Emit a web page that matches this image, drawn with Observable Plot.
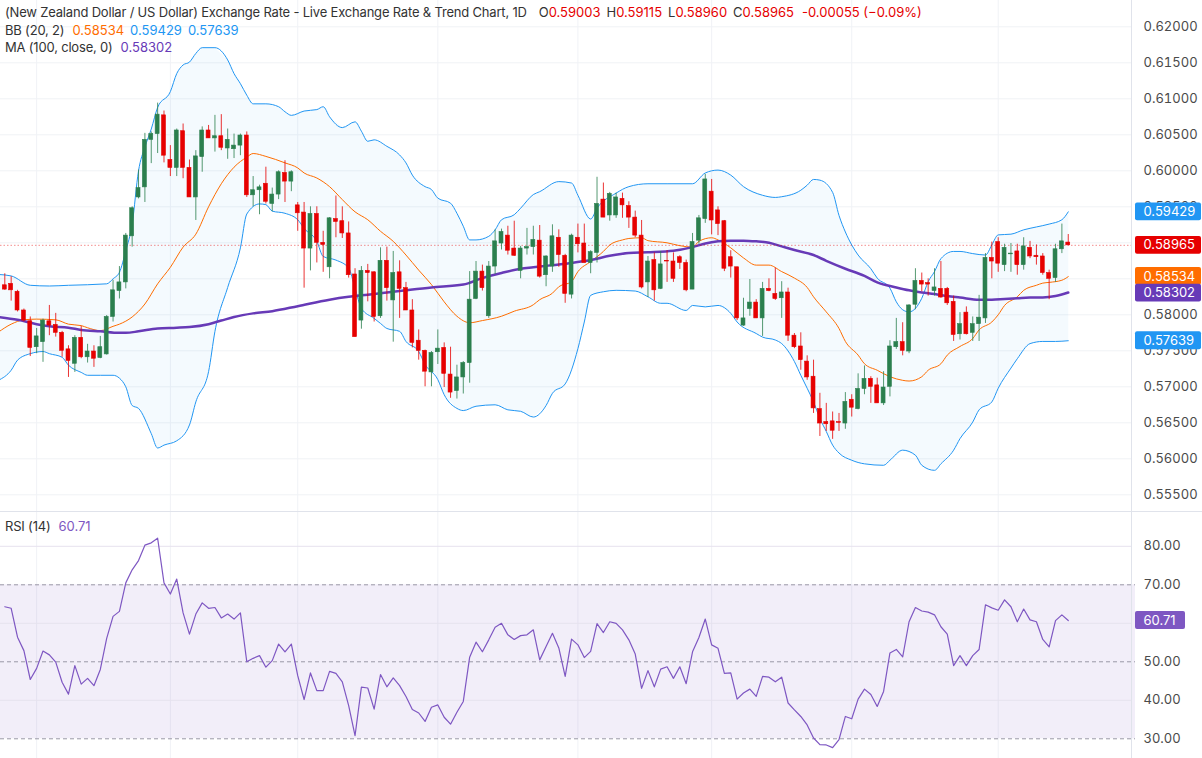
<!DOCTYPE html>
<html><head><meta charset="utf-8">
<script src="https://cdn.jsdelivr.net/npm/d3@7"></script>
<script src="https://cdn.jsdelivr.net/npm/@observablehq/plot@0.6"></script>
<style>
body{margin:0;background:#fff;font-family:Inter,"Noto Sans",sans-serif;}
#wrap{position:relative;width:1202px;height:758px;overflow:hidden;background:#fff}
#main,#rsi{display:block;line-height:0}
#rsi{border-top:1px solid #e0e3eb}
.lbl{position:absolute;left:5px;font-size:13px;line-height:17.5px;color:#333;white-space:nowrap}
.t{letter-spacing:-0.19px}
.r{color:#e60000}.o{color:#ff6d00}.b{color:#2196f3}.p{color:#673ab7}.rp{color:#7e57c2}
.g13{margin-left:12px}.g8{margin-left:6px}.g10{margin-left:8px}
</style></head><body>
<div id="wrap">
<div id="main"></div>
<div id="rsi"></div>
<div class="lbl" style="top:4px"><span class="t">(New Zealand Dollar / US Dollar) Exchange Rate - Live Exchange Rate &amp; Trend Chart, 1D</span><span class="g13">O</span><span class="r">0.59003</span><span class="g8">H</span><span class="r">0.59115</span><span class="g8">L</span><span class="r">0.58960</span><span class="g8">C</span><span class="r">0.58965</span><span class="r g10">-0.00055 (−0.09%)</span><br><span class="t">BB (20, 2)</span><span class="o g10">0.58534</span><span class="b g8">0.59429</span><span class="b g8">0.57639</span><br><span class="t">MA (100, close, 0)</span><span class="p g10">0.58302</span></div>
<div class="lbl" style="top:518px"><span class="t">RSI (14)</span><span class="rp g10">60.71</span></div>
</div>
<script>
// ---- Daily candles (index = trading day) ----
const open=[0.5841,0.5843,0.5832,0.5806,0.5791,0.5755,0.5762,0.5791,0.5786,0.5775,
0.5752,0.5732,0.5768,0.5741,0.5749,0.5740,0.5745,0.5797,0.5833,0.5845,
0.5909,0.5963,0.5977,0.6043,0.6051,0.6077,0.6015,0.6004,0.6055,0.6004,
0.5963,0.6019,0.6056,0.6045,0.6048,0.6031,0.6030,0.6035,0.6049,0.5966,
0.5973,0.5982,0.5954,0.5967,0.5997,0.5985,0.5952,0.5942,0.5892,0.5940,
0.5900,0.5866,0.5933,0.5930,0.5913,0.5856,0.5792,0.5861,0.5859,0.5798,
0.5875,0.5820,0.5859,0.5837,0.5806,0.5764,0.5750,0.5720,0.5748,0.5754,
0.5717,0.5694,0.5713,0.5733,0.5822,0.5860,0.5798,0.5867,0.5899,0.5910,
0.5892,0.5861,0.5892,0.5894,0.5903,0.5855,0.5867,0.5907,0.5882,0.5828,
0.5907,0.5899,0.5872,0.5886,0.5960,0.5938,0.5938,0.5961,0.5951,0.5935,
0.5910,0.5845,0.5876,0.5836,0.5875,0.5874,0.5880,0.5872,0.5835,0.5903,
0.5933,0.5971,0.5945,0.5930,0.5880,0.5866,0.5785,0.5808,0.5817,0.5795,
0.5836,0.5829,0.5823,0.5831,0.5771,0.5756,0.5735,0.5714,0.5669,0.5651,
0.5652,0.5651,0.5649,0.5682,0.5669,0.5697,0.5711,0.5702,0.5677,0.5700,
0.5755,0.5762,0.5749,0.5814,0.5847,0.5844,0.5833,0.5836,0.5836,0.5818,
0.5773,0.5803,0.5775,0.5787,0.5795,0.5879,0.5901,0.5869,0.5884,0.5888,
0.5869,0.5893,0.5882,0.5881,0.5858,0.5851,0.5891,0.59003];
const high=[0.5857,0.5853,0.5834,0.5808,0.5797,0.5781,0.5794,0.5813,0.5802,0.5777,
0.5757,0.5771,0.5784,0.5759,0.5757,0.5770,0.5799,0.5848,0.5867,0.5913,
0.5950,0.6001,0.6052,0.6054,0.6094,0.6083,0.6035,0.6058,0.6065,0.6015,
0.6028,0.6061,0.6063,0.6077,0.6078,0.6058,0.6051,0.6051,0.6054,0.5992,
0.5980,0.6005,0.5976,0.6000,0.6014,0.6000,0.5956,0.5956,0.5950,0.5950,
0.5916,0.5935,0.5965,0.5950,0.5929,0.5864,0.5867,0.5870,0.5860,0.5893,
0.5894,0.5888,0.5875,0.5845,0.5821,0.5779,0.5751,0.5749,0.5779,0.5761,
0.5755,0.5730,0.5735,0.5860,0.5874,0.5869,0.5874,0.5918,0.5919,0.5923,
0.5930,0.5895,0.5920,0.5923,0.5924,0.5882,0.5925,0.5918,0.5884,0.5912,
0.5926,0.5926,0.5889,0.5991,0.5983,0.5970,0.5969,0.5969,0.5957,0.5944,
0.5931,0.5881,0.5886,0.5888,0.5889,0.5886,0.5882,0.5876,0.5913,0.5938,
0.5995,0.5988,0.5950,0.5931,0.5889,0.5866,0.5823,0.5849,0.5821,0.5845,
0.5850,0.5865,0.5846,0.5837,0.5774,0.5775,0.5743,0.5737,0.5691,0.5677,
0.5665,0.5663,0.5692,0.5689,0.5718,0.5729,0.5714,0.5712,0.5721,0.5764,
0.5795,0.5789,0.5814,0.5864,0.5858,0.5850,0.5864,0.5874,0.5838,0.5826,
0.5803,0.5811,0.5797,0.5827,0.5885,0.5901,0.5907,0.5898,0.5899,0.5898,
0.5907,0.5902,0.5897,0.5885,0.5862,0.5898,0.5926,0.59115];
const low=[0.5834,0.5819,0.5804,0.5790,0.5742,0.5746,0.5734,0.5771,0.5769,0.5741,
0.5713,0.5720,0.5739,0.5733,0.5727,0.5739,0.5744,0.5790,0.5822,0.5836,
0.5894,0.5961,0.5956,0.6010,0.6024,0.6011,0.5992,0.5992,0.5989,0.5963,
0.5931,0.5998,0.6045,0.6026,0.6028,0.6016,0.6017,0.6021,0.5963,0.5950,
0.5939,0.5954,0.5943,0.5960,0.5956,0.5971,0.5916,0.5837,0.5861,0.5872,
0.5859,0.5850,0.5907,0.5906,0.5851,0.5769,0.5780,0.5818,0.5790,0.5795,
0.5819,0.5762,0.5795,0.5806,0.5754,0.5737,0.5700,0.5700,0.5731,0.5699,
0.5684,0.5683,0.5690,0.5705,0.5821,0.5833,0.5795,0.5856,0.5890,0.5883,
0.5881,0.5850,0.5883,0.5883,0.5851,0.5839,0.5859,0.5866,0.5816,0.5822,
0.5886,0.5872,0.5857,0.5872,0.5935,0.5930,0.5934,0.5934,0.5920,0.5907,
0.5836,0.5824,0.5819,0.5835,0.5845,0.5845,0.5863,0.5832,0.5835,0.5898,
0.5927,0.5911,0.5910,0.5860,0.5851,0.5792,0.5784,0.5798,0.5795,0.5770,
0.5832,0.5820,0.5795,0.5763,0.5753,0.5723,0.5709,0.5663,0.5631,0.5638,
0.5627,0.5638,0.5641,0.5658,0.5668,0.5689,0.5677,0.5677,0.5674,0.5686,
0.5752,0.5743,0.5746,0.5807,0.5832,0.5826,0.5826,0.5823,0.5813,0.5763,
0.5765,0.5772,0.5763,0.5763,0.5788,0.5850,0.5859,0.5860,0.5859,0.5855,
0.5862,0.5878,0.5869,0.5855,0.5821,0.5845,0.5885,0.58960];
const close=[0.5835,0.5834,0.5806,0.5792,0.5754,0.5770,0.5792,0.5785,0.5775,0.5750,
0.5736,0.5768,0.5741,0.5749,0.5739,0.5755,0.5797,0.5834,0.5845,0.5910,
0.5948,0.5976,0.6043,0.6051,0.6078,0.6021,0.6004,0.6056,0.6004,0.5963,
0.6020,0.6056,0.6045,0.6048,0.6032,0.6043,0.6035,0.6049,0.5966,0.5973,
0.5977,0.5957,0.5967,0.5998,0.5985,0.5998,0.5941,0.5892,0.5940,0.5900,
0.5897,0.5934,0.5929,0.5913,0.5855,0.5769,0.5861,0.5858,0.5797,0.5875,
0.5837,0.5858,0.5836,0.5806,0.5761,0.5750,0.5721,0.5747,0.5753,0.5718,
0.5692,0.5713,0.5733,0.5821,0.5860,0.5837,0.5867,0.5902,0.5915,0.5889,
0.5882,0.5892,0.5894,0.5904,0.5853,0.5881,0.5909,0.5883,0.5829,0.5910,
0.5898,0.5872,0.5887,0.5954,0.5935,0.5968,0.5963,0.5952,0.5935,0.5910,
0.5838,0.5874,0.5834,0.5870,0.5874,0.5850,0.5872,0.5834,0.5901,0.5934,
0.5988,0.5931,0.5926,0.5864,0.5867,0.5795,0.5795,0.5817,0.5795,0.5836,
0.5833,0.5822,0.5831,0.5771,0.5755,0.5737,0.5713,0.5670,0.5649,0.5648,
0.5639,0.5650,0.5679,0.5671,0.5697,0.5711,0.5700,0.5677,0.5699,0.5756,
0.5762,0.5750,0.5813,0.5847,0.5842,0.5842,0.5838,0.5824,0.5816,0.5772,
0.5787,0.5773,0.5787,0.5796,0.5879,0.5874,0.5871,0.5893,0.5885,0.5869,
0.5895,0.5881,0.5880,0.5858,0.5850,0.5891,0.5902,0.58965];

// ---- Bollinger Bands (20, 2) and MA(100), read at day indices ----
const bbUpperIdx=[-1,1,4,7,10,16,17,18,19,20,21,22,23,24,26,27,28,29,30,31,33,35,36,37,38,39,41,43,44,45,47,49,50,51,53,55,56,57,58,60,62,63,64,66,67,68,70,71,72,73,74,76,77,78,80,81,83,84,87,89,90,92,93,96,98,101,104,108,110,112,114,116,119,121,122,125,126,127,128,130,131,132,133,134,136,137,139,140,141,142,144,145,146,147,149,150,152,154,155,156,158,160,162,164,166,167];
const bbUpperVal=[0.5856,0.5854,0.5841,0.5840,0.5841,0.5843,0.5850,0.5859,0.5889,0.5926,0.6000,0.6033,0.6058,0.6088,0.6110,0.6135,0.6147,0.6151,0.6163,0.6171,0.6171,0.6154,0.6135,0.6121,0.6105,0.6093,0.6093,0.6089,0.6082,0.6077,0.6083,0.6085,0.6089,0.6075,0.6060,0.6068,0.6055,0.6041,0.6043,0.6034,0.6022,0.6011,0.5994,0.5978,0.5974,0.5962,0.5955,0.5941,0.5923,0.5904,0.5904,0.5909,0.5918,0.5932,0.5939,0.5948,0.5967,0.5971,0.5985,0.5983,0.5966,0.5933,0.5948,0.5969,0.5978,0.5982,0.5982,0.5982,0.5997,0.6001,0.5994,0.5978,0.5966,0.5963,0.5964,0.5973,0.5980,0.5988,0.5987,0.5970,0.5938,0.5915,0.5897,0.5883,0.5864,0.5851,0.5837,0.5818,0.5807,0.5804,0.5823,0.5846,0.5860,0.5878,0.5888,0.5888,0.5885,0.5883,0.5897,0.5911,0.5912,0.5918,0.5922,0.5926,0.5932,0.5943];
const bbLowerIdx=[-1,1,2,4,6,7,9,10,12,13,15,17,18,19,20,21,23,24,25,27,29,30,32,33,35,37,38,40,41,42,44,46,47,49,50,52,54,55,56,58,59,60,62,63,65,66,68,69,71,72,74,77,79,81,83,85,86,88,90,91,92,94,96,99,101,103,104,107,108,110,112,114,115,118,119,121,122,124,125,126,127,128,129,130,131,133,135,138,139,141,143,144,146,147,149,150,152,153,155,156,158,159,161,163,165,167];
const bbLowerVal=[0.5709,0.5723,0.5737,0.5746,0.5749,0.5746,0.5741,0.5730,0.5720,0.5716,0.5716,0.5716,0.5712,0.5700,0.5674,0.5670,0.5635,0.5615,0.5619,0.5625,0.5647,0.5679,0.5721,0.5777,0.5838,0.5893,0.5940,0.5954,0.5953,0.5944,0.5941,0.5932,0.5920,0.5902,0.5881,0.5876,0.5865,0.5837,0.5809,0.5795,0.5788,0.5781,0.5777,0.5763,0.5749,0.5731,0.5710,0.5689,0.5670,0.5667,0.5673,0.5675,0.5668,0.5666,0.5658,0.5674,0.5691,0.5704,0.5753,0.5790,0.5827,0.5832,0.5834,0.5833,0.5825,0.5816,0.5816,0.5806,0.5813,0.5811,0.5813,0.5802,0.5790,0.5774,0.5769,0.5765,0.5760,0.5735,0.5716,0.5698,0.5679,0.5656,0.5638,0.5619,0.5608,0.5598,0.5593,0.5591,0.5598,0.5612,0.5605,0.5591,0.5584,0.5593,0.5612,0.5628,0.5651,0.5668,0.5679,0.5698,0.5726,0.5739,0.5760,0.5763,0.5763,0.5764];
const bbMidIdx=[-1,1,3,5,8,10,12,13,15,17,18,20,22,24,26,28,30,32,34,36,38,39,41,44,46,47,49,51,53,55,57,59,61,63,65,67,69,71,73,75,78,80,83,84,86,87,89,90,92,94,95,97,98,100,101,104,106,108,109,111,112,114,116,118,120,122,124,126,127,129,131,132,134,135,137,139,141,142,144,145,147,148,150,152,153,155,156,157,159,160,162,163,164,166,167];
const bbMidVal=[0.5776,0.5787,0.5793,0.5794,0.5793,0.5787,0.5785,0.5782,0.5778,0.5784,0.5787,0.5797,0.5815,0.5843,0.5866,0.5894,0.5912,0.5950,0.5982,0.6005,0.6019,0.6024,0.6020,0.6011,0.6004,0.5997,0.5990,0.5978,0.5960,0.5943,0.5932,0.5916,0.5902,0.5883,0.5862,0.5842,0.5818,0.5798,0.5789,0.5792,0.5798,0.5805,0.5814,0.5821,0.5830,0.5839,0.5846,0.5860,0.5874,0.5888,0.5897,0.5904,0.5906,0.5907,0.5903,0.5900,0.5896,0.5894,0.5902,0.5907,0.5904,0.5893,0.5879,0.5869,0.5869,0.5860,0.5851,0.5838,0.5825,0.5804,0.5781,0.5763,0.5744,0.5732,0.5723,0.5714,0.5709,0.5708,0.5714,0.5723,0.5732,0.5744,0.5756,0.5767,0.5779,0.5790,0.5800,0.5813,0.5825,0.5834,0.5841,0.5844,0.5845,0.5848,0.5853];
const maIdx=[-1,2,5,7,10,12,15,18,19,21,24,27,29,32,34,36,39,42,46,51,54,57,62,67,72,75,78,81,83,86,89,92,95,98,101,105,108,110,112,114,116,118,120,122,124,127,129,132,135,137,140,142,144,146,148,150,153,155,157,159,161,163,165,167];
const maVal=[0.5797,0.5793,0.5787,0.5784,0.5782,0.5779,0.5777,0.5775,0.5775,0.5777,0.5781,0.5782,0.5783,0.5787,0.5792,0.5797,0.5802,0.5805,0.5812,0.5821,0.5825,0.5828,0.5833,0.5838,0.5842,0.5851,0.5858,0.5864,0.5866,0.5869,0.5872,0.5876,0.5882,0.5886,0.5887,0.5889,0.5894,0.5899,0.5902,0.5903,0.5903,0.5902,0.5900,0.5895,0.5890,0.5883,0.5875,0.5864,0.5854,0.5845,0.5838,0.5834,0.5831,0.5829,0.5826,0.5824,0.5821,0.5821,0.5822,0.5823,0.5824,0.5824,0.5826,0.5831];

// ---- RSI (14), one value per day ----
const rsi=[64.3,63.9,56.4,52.9,45.4,48.3,52.8,51.8,49.9,44.7,
41.6,49.0,44.2,45.7,43.8,48.0,56.1,61.8,63.1,70.5,
73.9,76.3,80.3,80.9,82.1,70.5,67.6,71.5,62.7,57.2,
62.4,65.3,63.9,64.1,61.4,62.4,61.1,62.7,50.0,50.9,
51.6,48.6,50.3,54.6,52.6,54.6,46.4,40.2,47.1,42.5,
42.5,47.5,47.0,44.8,38.6,30.8,43.4,43.2,37.7,46.7,
43.5,45.8,43.8,41.0,37.6,36.7,34.5,38.2,38.8,35.6,
33.8,36.9,39.7,51.2,55.1,52.6,55.7,59.0,60.0,57.0,
55.8,56.8,57.0,58.3,50.5,54.0,57.4,53.6,46.2,55.9,
54.4,51.1,52.7,59.9,57.6,60.4,60.0,58.3,55.7,52.0,
43.1,47.7,43.5,48.1,48.7,45.7,48.7,44.3,52.6,56.3,
61.1,54.4,53.5,47.0,47.1,40.3,41.9,42.9,41.0,46.2,
46.0,44.8,46.0,39.3,37.5,35.8,33.6,30.2,28.5,28.4,
27.7,29.8,35.8,35.2,40.3,42.9,41.5,38.4,42.3,52.3,
53.2,51.3,60.4,64.1,63.2,62.9,62.2,59.1,57.2,49.0,
51.6,49.0,51.6,53.2,64.8,64.0,63.4,66.1,64.3,60.4,
63.7,60.9,60.4,55.8,53.9,60.7,62.2,60.71];

// ---- axis / reference values ----
const priceTicks=[0.555,0.56,0.565,0.57,0.575,0.58,0.585,0.59,0.595,0.60,0.605,0.61,0.615,0.62];
const priceHidden=[0.585,0.59];        // labels fully covered by value badges in the reference
const rsiTicks=[30,40,50,60,70,80];
const rsiHidden=[60];
const rsiGuides=[30,50,70];
const rsiGrid=[40,60,80];
const monthStarts=[5,26,46,68,90,111,133,156];
const badgeVals=[0.59429,0.57639,0.58534,0.58302,0.58965];
const badgeCols=["#2196f3","#2196f3","#ff6d00","#673ab7","#e60000"];
const rsiLast=60.71;

const GREEN="#2b7f4e", RED="#e60000";
const candles=open.map((o,i)=>({i,open:o,high:high[i],low:low[i],close:close[i]}));
const pts=(ix,vs)=>ix.map((i,k)=>({i,v:vs[k]}));
const upper=pts(bbUpperIdx,bbUpperVal), lower=pts(bbLowerIdx,bbLowerVal);
const mid=pts(bbMidIdx,bbMidVal), ma=pts(maIdx,maVal);
const bandPoly=upper.concat(lower.slice().reverse());
const badges=badgeVals.map((v,k)=>({v,c:badgeCols[k]}));

// x scale: day index; plot frame spans 0..1131px, axis strip to the right
const W=1202, MR=71, STEP=6.368, X0=-0.675;
const xDom=[X0, X0+(W-MR)/STEP];
const xAt=px=>X0+px/STEP;
const last=candles[candles.length-1];
const shownPrice=priceTicks.filter(t=>!priceHidden.some(h=>Math.abs(h-t)<1e-9));
const shownRsi=rsiTicks.filter(t=>!rsiHidden.includes(t));

const main=Plot.plot({
  width:W,height:511,marginLeft:0,marginRight:MR,marginTop:0,marginBottom:0,
  style:{fontFamily:"Inter, 'Noto Sans', sans-serif",fontSize:"13px",color:"#4a4a4a",background:"#fff"},
  x:{type:"linear",domain:xDom,axis:null},
  y:{domain:[0.552681,0.623653],axis:null},
  color:{type:"identity"},
  marks:[
    Plot.ruleY(priceTicks,{stroke:"#f0f2f6",strokeWidth:1}),
    Plot.ruleX(monthStarts,{stroke:"#f0f2f6",strokeWidth:1}),
    Plot.line(bandPoly,{x:"i",y:"v",fill:"#2196f3",fillOpacity:0.05,stroke:null,clip:true}),
    Plot.line(upper,{x:"i",y:"v",stroke:"#2196f3",strokeWidth:1,curve:"monotone-x",clip:true}),
    Plot.line(lower,{x:"i",y:"v",stroke:"#2196f3",strokeWidth:1,curve:"monotone-x",clip:true}),
    Plot.line(mid,{x:"i",y:"v",stroke:"#ff6d00",strokeWidth:1,curve:"monotone-x",clip:true}),
    Plot.line(ma,{x:"i",y:"v",stroke:"#673ab7",strokeWidth:2.5,curve:"monotone-x",clip:true}),
    Plot.ruleY([last.close],{x1:xDom[0],x2:xDom[1],stroke:RED,strokeOpacity:0.45,strokeDasharray:"1.5,2"}),
    Plot.ruleX(candles,{x:"i",y1:"low",y2:"high",stroke:d=>d.close>=d.open?GREEN:RED,strokeWidth:1,strokeOpacity:0.8}),
    Plot.rect(candles,{x1:d=>d.i-0.31,x2:d=>d.i+0.31,y1:"open",y2:"close",fill:d=>d.close>=d.open?GREEN:RED,stroke:d=>d.close>=d.open?GREEN:RED,strokeWidth:0.6}),
    Plot.ruleX([xDom[1]],{stroke:"#e0e3eb"}),
    Plot.axisY(shownPrice,{anchor:"right",tickSize:0,tickPadding:12,tickFormat:d3.format(".5f"),fontSize:13,fill:"#4a4a4a",label:null}),
    Plot.rect(badges,{x1:xAt(1135),x2:xAt(1201),y1:d=>d.v-0.00124,y2:d=>d.v+0.00124,fill:"c",rx:2}),
    Plot.text(badges,{x:xAt(1143),y:"v",text:d=>d3.format(".5f")(d.v),fill:"white",textAnchor:"start",fontSize:13})
  ]
});
document.getElementById("main").appendChild(main);

const rsiPts=rsi.map((v,i)=>({i,v}));
const rp=Plot.plot({
  width:W,height:246,marginLeft:0,marginRight:MR,marginTop:0,marginBottom:0,
  style:{fontFamily:"Inter, 'Noto Sans', sans-serif",fontSize:"13px",color:"#4a4a4a",background:"#fff"},
  x:{type:"linear",domain:xDom,axis:null},
  y:{domain:[24.88,88.78],axis:null},
  marks:[
    Plot.ruleX(monthStarts,{stroke:"#f0f2f6"}),
    Plot.rect([{a:rsiGuides[0],b:rsiGuides[2]}],{x1:xDom[0],x2:xAt(1135),y1:"a",y2:"b",fill:"#7e57c2",fillOpacity:0.1}),
    Plot.ruleY(rsiGrid,{x1:xDom[0],x2:xDom[1],stroke:"#e6e2ee"}),
    Plot.ruleY(rsiGuides,{x1:xDom[0],x2:xAt(1135),stroke:"#9a98a6",strokeDasharray:"4,3"}),
    Plot.line(rsiPts,{x:"i",y:"v",stroke:"#7e57c2",strokeWidth:1.2}),
    Plot.ruleX([xDom[1]],{stroke:"#e0e3eb"}),
    Plot.axisY(shownRsi,{anchor:"right",tickSize:0,tickPadding:12,tickFormat:d3.format(".2f"),fontSize:13,fill:"#4a4a4a",label:null}),
    Plot.rect([rsiLast],{x1:xAt(1135),x2:xAt(1185),y1:d=>d-2.35,y2:d=>d+2.35,fill:"#7e57c2",rx:2}),
    Plot.text([rsiLast],{x:xAt(1143),y:d=>d,text:d=>d3.format(".2f")(d),fill:"white",textAnchor:"start",fontSize:13})
  ]
});
document.getElementById("rsi").appendChild(rp);
</script>
</body></html>
